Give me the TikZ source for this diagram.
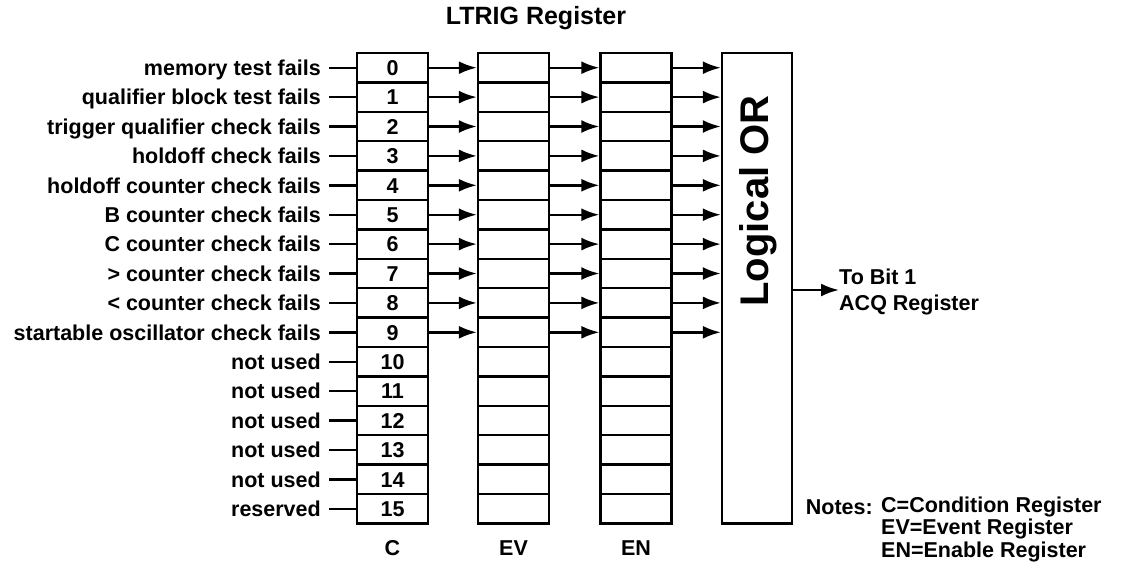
\documentclass[tikz,border=0pt]{standalone}
\usepackage{fontspec}
\setmainfont{Liberation Sans}
\usetikzlibrary{arrows.meta,positioning,calc}
\newcommand{\regfont}{\bfseries\fontsize{21.5}{21.5}\selectfont}
\tikzset{
  cell/.style={draw,line width=2.4pt,minimum width=71pt,minimum height=29.4pt,inner sep=0pt,text height=15.5pt,text depth=0pt,font=\regfont},
  lbl/.style={anchor=east,inner xsep=8pt,inner ysep=0pt,text height=15.5pt,text depth=0pt,font=\regfont},
  txt/.style={inner sep=0pt,font=\regfont},
  arr/.style={-{Latex[length=18pt,width=13pt]},line width=2.4pt},
  tick/.style={line width=2.4pt}
}

\begin{document}
\begin{tikzpicture}[x=1pt,y=-1pt]
  \useasboundingbox (0,0) rectangle (1131,566);
  \node[txt,font=\bfseries\fontsize{25}{25}\selectfont] (title) at (536,18) {LTRIG Register};

  % register columns
  \foreach \i in {0,...,15} {
    \node[cell] (c\i) at (392.5,{67.7+29.4*\i}) {\i};
    \node[cell] (ev\i) at (513.5,{67.7+29.4*\i}) {};
    \node[cell] (en\i) at (636,{67.7+29.4*\i}) {};
  }
  \node[draw,line width=2.4pt,minimum width=70pt,minimum height=470.4pt,inner sep=0pt] (lor) at (757,288.2) {};
  \node[txt,rotate=90,font=\bfseries\fontsize{40}{40}\selectfont] (lortxt) at (758,201) {Logical OR};

  % inputs
  \foreach \t [count=\j from 0] in {memory test fails,qualifier block test fails,trigger qualifier check fails,holdoff check fails,holdoff counter check fails,B counter check fails,C counter check fails,> counter check fails,< counter check fails,startable oscillator check fails,not used,not used,not used,not used,not used,reserved} {
    \node[lbl] (in\j) at (329,{67.7+29.4*\j}) {\t};
    \draw[tick] (in\j.east) -- (c\j.west);
  }

  % arrows for used bits
  \foreach \i in {0,...,9} {
    \draw[arr] (c\i.east) -- (ev\i.west);
    \draw[arr] (ev\i.east) -- (en\i.west);
    \draw[arr] (en\i.east) -- (en\i.east -| lor.west);
  }

  \node[txt] (colc) at (392.5,548) {C};
  \node[txt] (colev) at (513.5,548) {EV};
  \node[txt] (colen) at (636,548) {EN};

  \node[txt,anchor=west,align=left] (acq) at (839,292) {To Bit 1\\[4pt]ACQ Register};
  \coordinate (acqin) at (acq.west |- 0,290);
  \draw[arr] (lor.east |- acqin) -- (acqin);

  \node[txt,anchor=east] (notes) at (873,507) {Notes:};
  \node[txt,anchor=west,align=left] (notetxt) at (881,529) {C=Condition Register\\[1pt]EV=Event Register\\[1pt]EN=Enable Register};
\end{tikzpicture}
\end{document}
